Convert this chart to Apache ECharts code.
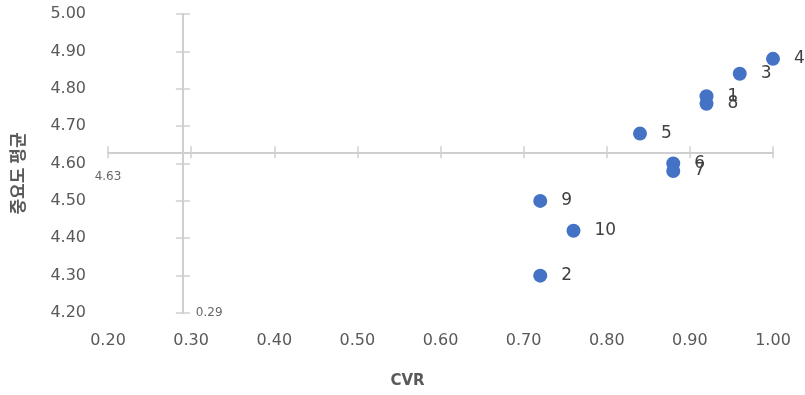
<!DOCTYPE html>
<html>
<head>
<meta charset="utf-8">
<script src="https://cdn.jsdelivr.net/npm/echarts@6/dist/echarts.min.js"></script>
<style>
  html, body { margin: 0; padding: 0; background: #ffffff; }
  #chart { width: 805px; height: 395px; }
</style>
</head>
<body>
<div id="chart"></div>
<script>
// Item numbers with their CVR and mean importance
const itemLabels = ['1', '2', '3', '4', '5', '6', '7', '8', '9', '10'];
const cvrValues = [0.92, 0.72, 0.96, 1.00, 0.84, 0.88, 0.88, 0.92, 0.72, 0.76];
const importanceMeans = [4.78, 4.30, 4.84, 4.88, 4.68, 4.60, 4.58, 4.76, 4.50, 4.42];

// Reference lines: mean CVR and mean importance
const cvrCross = 0.29;
const meanCross = 4.63;

// Axis ranges [min, max, interval]
const xRange = [0.2, 1.0, 0.1];
const yRange = [4.2, 5.0, 0.1];

const grid = { left: 108, right: 32, top: 14, bottom: 82 };
const gridW = 805 - grid.left - grid.right;
const gridH = 395 - grid.top - grid.bottom;

const fontFamily = '"DejaVu Sans", "Noto Sans", sans-serif';
const lineColor = '#cfcfcf';

// Offsets that place the crossing axes at the reference values
const xCrossOffset = -(meanCross - yRange[0]) / (yRange[1] - yRange[0]) * gridH;
const yCrossOffset = -(cvrCross - xRange[0]) / (xRange[1] - xRange[0]) * gridW;

function crossX(inside) {
  return {
    type: 'value', min: xRange[0], max: xRange[1], interval: xRange[2],
    position: 'bottom', offset: xCrossOffset,
    axisLine: { show: true, onZero: false, lineStyle: { color: lineColor, width: 2 } },
    axisTick: { show: true, inside: inside, length: 6, lineStyle: { color: lineColor, width: 1.5 } },
    axisLabel: { show: false }, splitLine: { show: false }
  };
}
function crossY(inside) {
  return {
    type: 'value', min: yRange[0], max: yRange[1], interval: yRange[2],
    position: 'left', offset: yCrossOffset,
    axisLine: { show: true, onZero: false, lineStyle: { color: lineColor, width: 2 } },
    axisTick: { show: true, inside: inside, length: 7, lineStyle: { color: lineColor, width: 1.5 } },
    axisLabel: { show: false }, splitLine: { show: false }
  };
}

const chart = echarts.init(document.getElementById('chart'), null, { renderer: 'canvas' });

chart.setOption({
  animation: false,
  textStyle: { fontFamily: fontFamily },
  grid: grid,
  xAxis: [
    {
      type: 'value', min: xRange[0], max: xRange[1], interval: xRange[2],
      name: 'CVR', nameLocation: 'middle', nameGap: 61,
      nameTextStyle: { color: '#595959', fontSize: 15, fontWeight: 'bold',
        fontFamily: fontFamily, padding: [0, 66, 0, 0] },
      axisLine: { show: false }, axisTick: { show: false }, splitLine: { show: false },
      axisLabel: { color: '#595959', fontSize: 16, margin: 20, formatter: v => v.toFixed(2) }
    },
    crossX(false),
    crossX(true)
  ],
  yAxis: [
    {
      type: 'value', min: yRange[0], max: yRange[1], interval: yRange[2],
      name: '중요도 평균', nameLocation: 'middle', nameGap: 82, nameRotate: 90,
      nameTextStyle: { color: '#595959', fontSize: 17, fontWeight: 'bold',
        fontFamily: '"Noto Sans CJK KR", sans-serif', padding: [0, 20, 0, 0] },
      axisLine: { show: false }, axisTick: { show: false }, splitLine: { show: false },
      axisLabel: { color: '#595959', fontSize: 16, margin: 22, formatter: v => v.toFixed(2) }
    },
    crossY(false),
    crossY(true)
  ],
  series: [
    {
      type: 'scatter',
      xAxisIndex: 0, yAxisIndex: 0,
      symbolSize: 14,
      itemStyle: { color: '#4472C4', opacity: 1 },
      label: {
        show: true, position: 'right', distance: 14,
        color: '#404040', fontSize: 17, fontFamily: fontFamily,
        formatter: p => p.data[2]
      },
      data: itemLabels.map((name, i) => [cvrValues[i], importanceMeans[i], name]),
      z: 5
    },
    {
      // value labels for the two reference lines
      type: 'scatter',
      xAxisIndex: 0, yAxisIndex: 0,
      symbolSize: 0,
      silent: true,
      label: { show: true, color: '#404040', fontSize: 12, fontFamily: fontFamily },
      data: [
        { value: [xRange[0], meanCross], label: { position: 'bottom', distance: 19, formatter: meanCross.toFixed(2) } },
        { value: [cvrCross, yRange[0]], label: { position: 'right', distance: 13, formatter: cvrCross.toFixed(2) } }
      ]
    }
  ]
});
</script>
</body>
</html>
